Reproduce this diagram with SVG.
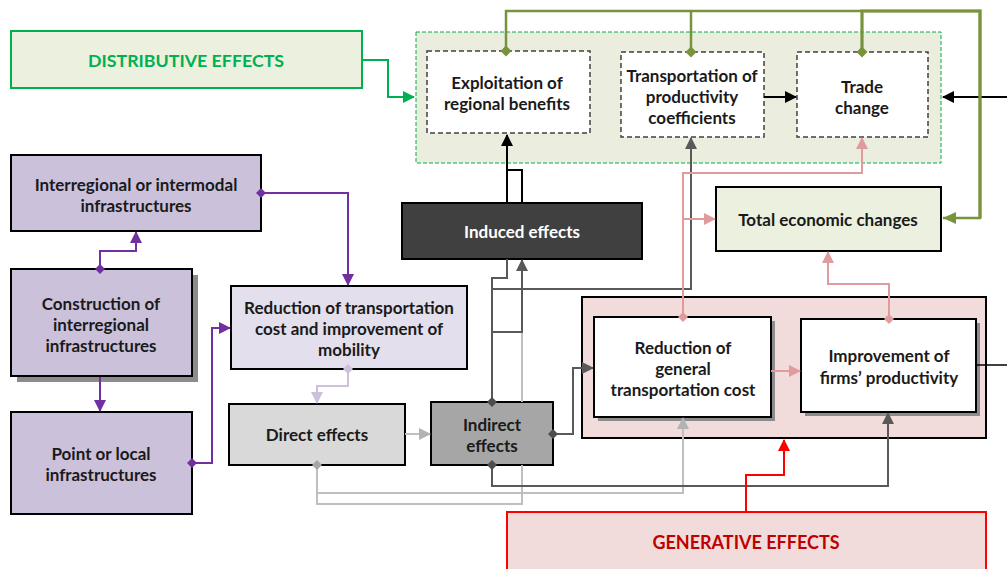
<svg xmlns="http://www.w3.org/2000/svg" width="1007" height="569" viewBox="0 0 1007 569">
<style>
text{font-family:Lato,"Liberation Sans",sans-serif;font-weight:bold;font-size:17px;fill:#1a1a1a;text-anchor:middle;dominant-baseline:central}
.box{stroke:#000;stroke-width:2}
.dash{fill:#fff;stroke:#404040;stroke-width:1.5;stroke-dasharray:5 3}
.c{fill:none;stroke-width:2}
.pu{stroke:#7030a0}.lp{stroke:#ccc0da}.lg{stroke:#bfbfbf}.dg{stroke:#595959}.bk{stroke:#000}.pk{stroke:#e09c9c}.gr{stroke:#77933c;stroke-width:2.5}.bg{stroke:#00b050}.rd{stroke:#ff0000}
.sh{fill:#8c8c8c}
</style>
<defs>
<marker id="aPu" markerUnits="userSpaceOnUse" markerWidth="12" markerHeight="12" refX="11" refY="6" orient="auto"><path d="M0,0L12,6L0,12z" fill="#7030a0"/></marker>
<marker id="dPu" markerUnits="userSpaceOnUse" markerWidth="10" markerHeight="10" refX="5" refY="5" orient="auto"><path d="M0,5L5,0L10,5L5,10z" fill="#7030a0"/></marker>
<marker id="aLp" markerUnits="userSpaceOnUse" markerWidth="12" markerHeight="12" refX="11" refY="6" orient="auto"><path d="M0,0L12,6L0,12z" fill="#ccc0da"/></marker>
<marker id="dLp" markerUnits="userSpaceOnUse" markerWidth="10" markerHeight="10" refX="5" refY="5" orient="auto"><path d="M0,5L5,0L10,5L5,10z" fill="#ccc0da"/></marker>
<marker id="aLg" markerUnits="userSpaceOnUse" markerWidth="12" markerHeight="12" refX="11" refY="6" orient="auto"><path d="M0,0L12,6L0,12z" fill="#b3b3b3"/></marker>
<marker id="dLg" markerUnits="userSpaceOnUse" markerWidth="10" markerHeight="10" refX="5" refY="5" orient="auto"><path d="M0,5L5,0L10,5L5,10z" fill="#a6a6a6"/></marker>
<marker id="aDg" markerUnits="userSpaceOnUse" markerWidth="12" markerHeight="12" refX="11" refY="6" orient="auto"><path d="M0,0L12,6L0,12z" fill="#595959"/></marker>
<marker id="dDg" markerUnits="userSpaceOnUse" markerWidth="10" markerHeight="10" refX="5" refY="5" orient="auto"><path d="M0,5L5,0L10,5L5,10z" fill="#4d4d4d"/></marker>
<marker id="aBk" markerUnits="userSpaceOnUse" markerWidth="12" markerHeight="12" refX="11" refY="6" orient="auto"><path d="M0,0L12,6L0,12z" fill="#000"/></marker>
<marker id="aPk" markerUnits="userSpaceOnUse" markerWidth="12" markerHeight="12" refX="11" refY="6" orient="auto"><path d="M0,0L12,6L0,12z" fill="#e09c9c"/></marker>
<marker id="dPk" markerUnits="userSpaceOnUse" markerWidth="10" markerHeight="10" refX="5" refY="5" orient="auto"><path d="M0,5L5,0L10,5L5,10z" fill="#e09c9c"/></marker>
<marker id="aGr" markerUnits="userSpaceOnUse" markerWidth="14" markerHeight="14" refX="13" refY="7" orient="auto"><path d="M0,1L13,7L0,13z" fill="#77933c"/></marker>
<marker id="dGr" markerUnits="userSpaceOnUse" markerWidth="11" markerHeight="11" refX="5.5" refY="5.5" orient="auto"><path d="M0,5.5L5.5,0L11,5.5L5.5,11z" fill="#77933c"/></marker>
<marker id="aBg" markerUnits="userSpaceOnUse" markerWidth="12" markerHeight="12" refX="11" refY="6" orient="auto"><path d="M0,0L12,6L0,12z" fill="#00b050"/></marker>
<marker id="aRd" markerUnits="userSpaceOnUse" markerWidth="12" markerHeight="12" refX="11" refY="6" orient="auto"><path d="M0,0L12,6L0,12z" fill="#ff0000"/></marker>
</defs>

<g id="distributive">
<rect x="11" y="31" width="351" height="57" fill="#ebf1de" stroke="#00b050" stroke-width="2"/>
<text x="186" y="60" style="fill:#00b050;font-size:17.8px">DISTRIBUTIVE EFFECTS</text>
</g>
<g id="distributive-area">
<rect x="416" y="32" width="525" height="131" fill="#ebeedf" stroke="#00b050" stroke-width="1" stroke-dasharray="4 2"/>
</g>
<g id="exploitation">
<rect class="dash" x="427" y="51" width="163" height="82"/>
<text x="507" y="82">Exploitation of</text>
<text x="507" y="103">regional benefits</text>
</g>
<g id="transportation-coef">
<rect class="dash" x="621" y="52" width="143" height="85"/>
<text x="692" y="75">Transportation of</text>
<text x="692" y="96">productivity</text>
<text x="692" y="117">coefficients</text>
</g>
<g id="trade">
<rect class="dash" x="797" y="52" width="131" height="85"/>
<text x="862" y="86">Trade</text>
<text x="862" y="107">change</text>
</g>
<g id="interregional">
<rect class="box" x="11" y="155" width="250" height="76" fill="#ccc1da"/>
<text x="136" y="184">Interregional or intermodal</text>
<text x="136" y="205">infrastructures</text>
</g>
<g id="construction">
<rect class="sh" x="17" y="275" width="181" height="107"/>
<rect class="box" x="11" y="269" width="181" height="107" fill="#ccc1da"/>
<text x="101" y="303">Construction of</text>
<text x="101" y="324">interregional</text>
<text x="101" y="345">infrastructures</text>
</g>
<g id="point">
<rect class="box" x="11" y="412" width="181" height="102" fill="#ccc1da"/>
<text x="101" y="453">Point or local</text>
<text x="101" y="474">infrastructures</text>
</g>
<g id="reduction-mobility">
<rect class="box" x="231" y="286" width="236" height="83" fill="#e4dfec"/>
<text x="349" y="307">Reduction of transportation</text>
<text x="349" y="328">cost and improvement of</text>
<text x="349" y="349">mobility</text>
</g>
<g id="direct">
<rect class="box" x="229" y="404" width="176" height="61" fill="#d9d9d9"/>
<text x="317" y="434">Direct effects</text>
</g>
<g id="indirect">
<rect class="box" x="431" y="402" width="122" height="63" fill="#a6a6a6"/>
<text x="492" y="424">Indirect</text>
<text x="492" y="445">effects</text>
</g>
<g id="induced">
<rect class="box" x="402" y="203" width="240" height="56" fill="#404040"/>
<text x="522" y="231" style="fill:#fff">Induced effects</text>
</g>
<g id="total">
<rect class="box" x="716" y="187" width="225" height="64" fill="#ebf1de"/>
<text x="828" y="219">Total economic changes</text>
</g>
<g id="generative-area">
<rect class="box" x="582" y="297" width="404" height="141" fill="#f2dcdb"/>
</g>
<g id="reduction-general">
<rect class="sh" x="598" y="321" width="177" height="100"/>
<rect class="box" x="594" y="317" width="177" height="100" fill="#fff"/>
<text x="683" y="347">Reduction of</text>
<text x="683" y="368">general</text>
<text x="683" y="389">transportation cost</text>
</g>
<g id="improvement">
<rect class="sh" x="805" y="323" width="175" height="93"/>
<rect class="box" x="801" y="319" width="175" height="93" fill="#fff"/>
<text x="889" y="355">Improvement of</text>
<text x="889" y="377">firms’ productivity</text>
</g>
<g id="generative">
<rect x="507" y="512" width="479" height="70" fill="#f2dcdb" stroke="#ff0000" stroke-width="2"/>
<text x="746" y="542" style="fill:#c00000;font-size:18px">GENERATIVE EFFECTS</text>
</g>

<g id="connectors">
<path class="c bg" d="M362,60H388V97H414" marker-end="url(#aBg)"/>
<path class="c pu" d="M100,269V251H136V232" marker-start="url(#dPu)" marker-end="url(#aPu)"/>
<path class="c pu" d="M100,377V411" marker-end="url(#aPu)"/>
<path class="c pu" d="M192,463H212V328H230" marker-start="url(#dPu)" marker-end="url(#aPu)"/>
<path class="c pu" d="M261,193H348V285" marker-start="url(#dPu)" marker-end="url(#aPu)"/>
<path class="c lp" d="M348,369V386H317V403" marker-start="url(#dLp)" marker-end="url(#aLp)"/>
<path class="c lg" d="M405,434H430" marker-end="url(#aLg)"/>
<path class="c lg" d="M317,465V504H522V465"/>
<path class="c lg" d="M522,402V332"/>
<path class="c lg" d="M317,465V493H683V418" marker-start="url(#dLg)" marker-end="url(#aLg)"/>
<path class="c dg" d="M492,402V278H507V259" marker-start="url(#dDg)"/>
<path class="c dg" d="M492,332H522V260" marker-end="url(#aDg)"/>
<path class="c dg" d="M492,289H691V138" marker-end="url(#aDg)"/>
<path class="c dg" d="M553,434H573V368H593" marker-start="url(#dDg)" marker-end="url(#aDg)"/>
<path class="c dg" d="M492,465V486H888V413" marker-start="url(#dDg)" marker-end="url(#aDg)"/>
<path class="c bk" d="M507,203V135" marker-end="url(#aBk)"/>
<path class="c bk" d="M522,203V170H507"/>
<path class="c bk" d="M764,97H796" marker-end="url(#aBk)"/>
<path class="c bk" d="M1007,97H943" marker-end="url(#aBk)"/>
<path class="c bk" style="stroke-width:1.5" d="M976,365H1007"/>
<path class="c pk" d="M683,317V173H862V138" marker-start="url(#dPk)" marker-end="url(#aPk)"/>
<path class="c pk" d="M683,219H715" marker-end="url(#aPk)"/>
<path class="c pk" d="M889,319V284H828V252" marker-start="url(#dPk)" marker-end="url(#aPk)"/>
<path class="c pk" d="M771,371H800" marker-end="url(#aPk)"/>
<path class="c gr" d="M506,51V11H980V218H943" marker-start="url(#dGr)" marker-end="url(#aGr)"/>
<path class="c gr" d="M691,52V11" marker-start="url(#dGr)"/>
<path class="c gr" d="M862,52V11H980V218" marker-start="url(#dGr)" style="stroke-width:3.2"/>
<path class="c rd" d="M746,512V475H784V440" marker-end="url(#aRd)"/>
</g>
</svg>
